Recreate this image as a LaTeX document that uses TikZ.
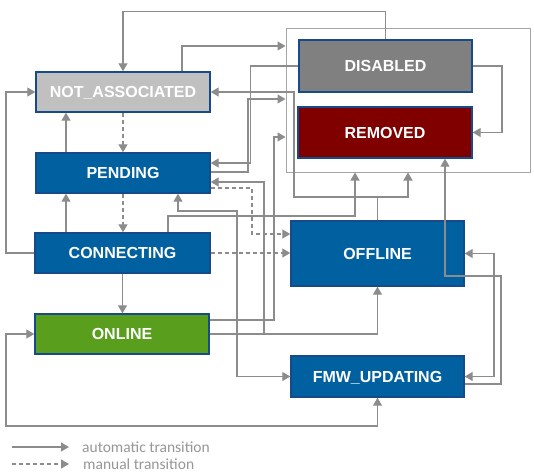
\documentclass[tikz,border=0pt]{standalone}
\usepackage{fontspec}
\setmainfont{Liberation Sans}
\newfontfamily\legfont{Carlito}
\usetikzlibrary{arrows.meta}
\definecolor{lnk}{RGB}{140,140,140}
\definecolor{grpc}{RGB}{165,165,165}
\definecolor{blu}{RGB}{0,96,160}
\definecolor{bord}{RGB}{22,74,138}
\definecolor{grn}{RGB}{90,158,30}
\definecolor{lgray}{RGB}{192,192,192}
\definecolor{dgray}{RGB}{128,128,128}
\definecolor{dred}{RGB}{128,0,0}
\definecolor{legc}{RGB}{150,150,150}
\begin{document}
\begin{tikzpicture}[x=1pt,y=-1pt,
  >={Triangle[length=8pt,width=9pt]},
  state/.style={draw=bord,line width=1.4pt,text=white,inner sep=0pt,
    text height=11.6pt,text depth=0pt,
    font=\bfseries\fontsize{16}{18}\selectfont},
  tr/.style={draw=lnk,line width=1.2pt,->},
  trb/.style={draw=lnk,line width=1.2pt,<->},
  man/.style={tr,dash pattern=on 4pt off 3pt},
  legtext/.style={anchor=base west,inner sep=0pt,text=legc,
    font=\legfont\fontsize{15.5}{17}\selectfont},
]
\useasboundingbox (0,0) rectangle (534,474);
% group container
\node[draw=grpc,line width=1pt,minimum width=244pt,minimum height=144pt,inner sep=0pt] (grp) at (408,100) {};
% states
\node[state,fill=lgray,minimum width=174pt,minimum height=40pt] (na) at (123,92) {NOT\_ASSOCIATED};
\node[state,fill=blu,minimum width=174pt,minimum height=40pt] (pend) at (123,173) {PENDING};
\node[state,fill=blu,minimum width=175pt,minimum height=40pt] (conn) at (122.5,253) {CONNECTING};
\node[state,fill=grn,minimum width=174pt,minimum height=40pt] (onl) at (122,334) {ONLINE};
\node[state,fill=dgray,minimum width=173pt,minimum height=52pt] (dis) at (385.5,66) {DISABLED};
\node[state,fill=dred,minimum width=174pt,minimum height=51pt] (rem) at (385,132.5) {REMOVED};
\node[state,fill=blu,minimum width=173pt,minimum height=65pt] (off) at (377.5,253.5) {OFFLINE};
\node[state,fill=blu,minimum width=173pt,minimum height=41pt] (fmw) at (377.5,376.5) {FMW\_UPDATING};
% connectors
\draw[tr] (dis.north) -- ++(0,-28) -| (na.north);
\draw[tr] (na.north -| 182,0) |- (grp.west |- 0,46);
\draw[tr] (dis.west) -| (250.5,163) -- (pend.east |- 0,163);
\draw[tr] (pend.east |- 0,172) -| (248,99) -- (grp.west |- 0,99);
\draw[tr] (off.north) |- (294,197) |- (na.east);
\draw[tr] (off.north) |- (408,197) -- (grp.south -| 408,0);
\draw[tr] (onl.east |- 0,320) -| (274,137) -- (grp.west |- 0,137);
\draw[tr] (conn.north -| 168,0) |- (355,216) -- (grp.south -| 355,0);
\draw[tr] (onl.east) -| (off.south);
\draw[tr] (onl.east) -| (264,182) -- (pend.east |- 0,182);
\draw[trb] (pend.south -| 178,0) |- (237,211) |- (fmw.west);
\draw[man] (pend.east |- 0,188) -| (252,234) -- (off.west |- 0,234);
\draw[man] (conn.east) -- (off.west |- conn.east);
\draw[man] (na.south) -- (pend.north);
\draw[man] (pend.south) -- (conn.north -| pend.south);
\draw[tr] (conn.south) -- (onl.north -| conn.south);
\draw[tr] (pend.north -| 66,0) -- (na.south -| 66,0);
\draw[tr] (conn.north -| 66,0) -- (pend.south -| 66,0);
\draw[tr] (conn.west) -| (6,150) |- (na.west);
\draw[trb] (onl.west) -| (6,426) -| (fmw.south);
\draw[trb] (off.east) -| (494,300) |- (fmw.east);
\draw[tr] (fmw.east |- 0,384) -| (501,276) -| (rem.south -| 445,0);
\draw[tr] (dis.east) -| (502,100) |- (rem.east);
% legend
\coordinate (la1) at (12,447);
\coordinate (lb1) at (69,447);
\coordinate (la2) at (12,464);
\coordinate (lb2) at (69,464);
\draw[tr] (la1) -- (lb1);
\draw[man] (la2) -- (lb2);
\node[legtext] (lt1) at (82,452) {automatic transition};
\node[legtext] (lt2) at (83,469) {manual transition};
\end{tikzpicture}
\end{document}
